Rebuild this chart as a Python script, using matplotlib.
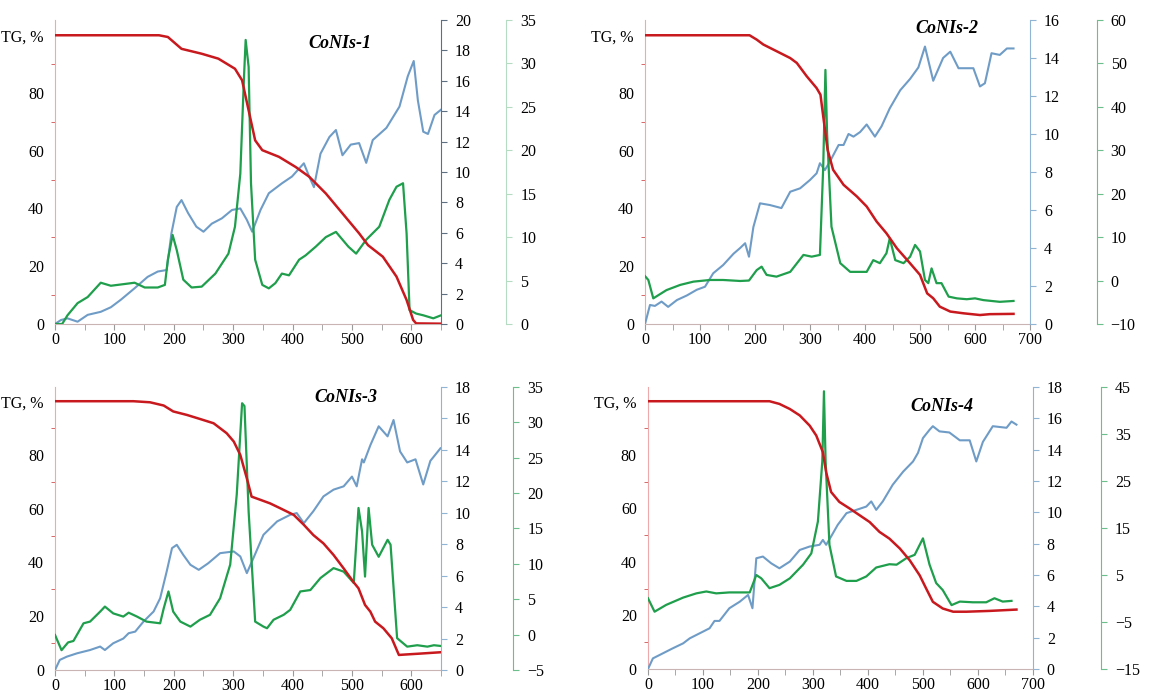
import matplotlib.pyplot as plt

plt.rcParams['font.family'] = ['Liberation Serif', 'DejaVu Serif']
plt.rcParams['font.size'] = 11.5
plt.rcParams['lines.solid_joinstyle'] = 'round'

RED = '#c8191e'
BLUE = '#6f9cc6'
GREEN = '#1f9e4c'

# ---- CoNIs-1 ----
t_tg1 = [0, 175, 190, 213, 247, 275, 303, 315, 326, 337, 349, 377, 405, 428, 456, 484,
         512, 527, 552, 575, 592, 603, 608, 650]
tg1 = [100, 100, 99.4, 95.3, 93.6, 91.9, 88.4, 84.4, 74, 63.6, 60.2, 57.9, 54.4, 51, 45.2,
       38.3, 31.4, 27.3, 23.3, 16.4, 8.3, 1.4, 0.2, 0.1]
t_b1 = [0, 10, 21, 38, 55, 77, 94, 111, 134, 156, 173, 188, 196, 205, 213, 224, 238, 250,
        264, 281, 298, 312, 323, 332, 346, 360, 382, 399, 419, 428, 436, 447, 462, 473,
        484, 498, 512, 524, 535, 558, 580, 594, 604, 611, 620, 628, 639, 650]
b1 = [0, 0.26, 0.37, 0.15, 0.6, 0.8, 1.1, 1.6, 2.35, 3.1, 3.45, 3.55, 5.96, 7.7, 8.15, 7.3,
      6.4, 6.07, 6.6, 6.95, 7.5, 7.6, 6.85, 6.07, 7.5, 8.6, 9.25, 9.7, 10.57, 9.7, 9.0,
      11.2, 12.3, 12.76, 11.1, 11.8, 11.9, 10.6, 12.1, 12.9, 14.3, 16.3, 17.3, 14.7,
      12.65, 12.5, 13.75, 14.1]
t_g1 = [0, 12, 21, 38, 55, 77, 94, 117, 134, 151, 173, 185, 190, 198, 205, 216, 230, 247,
        270, 292, 303, 312, 318, 321, 326, 330, 337, 349, 360, 371, 382, 394, 411, 422,
        439, 456, 473, 494, 507, 524, 546, 563, 575, 586, 592, 597, 608, 620, 637, 650]
g1 = [0, 0, 1.0, 2.4, 3.1, 4.75, 4.4, 4.6, 4.75, 4.2, 4.2, 4.5, 7.4, 10.25, 8.5, 5.1, 4.2,
      4.3, 5.8, 8.1, 11.2, 17.3, 28.1, 32.7, 29.6, 16.2, 7.4, 4.5, 4.1, 4.7, 5.8, 5.6, 7.4,
      7.9, 8.9, 10.0, 10.6, 8.9, 8.1, 9.7, 11.2, 14.3, 15.8, 16.2, 10.4, 1.6, 1.2, 1.0,
      0.65, 1.0]

# ---- CoNIs-2 ----
t_tg2 = [0, 190, 203, 215, 239, 264, 276, 294, 312, 319, 324, 332, 342, 361, 385, 403,
         421, 439, 458, 482, 500, 513, 524, 536, 555, 579, 609, 627, 670]
tg2 = [100, 100, 98.5, 96.8, 94.5, 92.1, 90.4, 85.8, 81.7, 79.4, 71.9, 60.3, 53.4, 48.2,
       44.2, 40.7, 35.5, 31.4, 26.2, 21.0, 17.0, 10.6, 8.9, 6.0, 4.3, 3.7, 3.1, 3.4, 3.5]
t_b2 = [0, 9, 18, 30, 42, 58, 76, 94, 109, 124, 142, 161, 173, 182, 189, 197, 209, 227,
        248, 264, 282, 300, 312, 318, 327, 336, 352, 361, 370, 379, 391, 403, 418, 430,
        445, 464, 482, 497, 509, 524, 542, 555, 570, 597, 609, 618, 630, 645, 658, 670]
b2 = [0, 1.0, 0.95, 1.18, 0.9, 1.26, 1.5, 1.8, 1.96, 2.67, 3.1, 3.7, 4.0, 4.25, 3.54, 5.1,
      6.35, 6.26, 6.1, 6.96, 7.14, 7.58, 7.93, 8.46, 8.1, 8.54, 9.42, 9.42, 10.0, 9.86,
      10.1, 10.5, 9.86, 10.4, 11.35, 12.3, 12.9, 13.5, 14.6, 12.8, 14.0, 14.33, 13.46,
      13.46, 12.5, 12.67, 14.25, 14.16, 14.5, 14.5]
t_g2 = [0, 6, 15, 39, 64, 88, 118, 142, 173, 189, 203, 212, 221, 239, 264, 288, 303, 318,
        324, 328, 331, 339, 355, 373, 403, 415, 427, 439, 445, 455, 470, 482, 491, 500,
        509, 515, 521, 530, 539, 552, 567, 585, 600, 615, 645, 670]
g2 = [1.0, 0.13, -4.1, -2.2, -1.0, -0.25, 0.13, 0.13, -0.1, 0, 2.4, 3.2, 1.3, 0.9, 2.0,
      5.9, 5.5, 5.9, 26.2, 48.5, 33.9, 12.4, 4.0, 2.0, 2.0, 4.7, 4.0, 6.3, 9.7, 4.7, 4.0,
      5.5, 8.2, 6.7, 0.13, -0.6, 2.8, -0.6, -0.6, -3.7, -4.1, -4.3, -4.1, -4.5, -4.9, -4.7]

# ---- CoNIs-3 ----
t_tg3 = [0, 132, 160, 183, 199, 222, 244, 267, 289, 301, 312, 323, 331, 346, 362, 379,
         402, 419, 435, 452, 469, 486, 503, 511, 522, 531, 539, 553, 567, 579, 593, 615, 649]
tg3 = [100, 100, 99.6, 98.4, 96.2, 94.9, 93.4, 91.8, 88.1, 85, 80, 71.3, 64.5, 63.3, 62,
       60.2, 57.7, 54, 50.2, 47.1, 42.8, 37.8, 32.6, 30.4, 24.2, 21.7, 18, 15.5, 11.8, 5.6,
       5.8, 6.1, 6.6]
t_b3 = [0, 8, 20, 37, 59, 76, 84, 98, 115, 124, 135, 149, 166, 177, 188, 197, 205, 216,
        228, 242, 258, 278, 301, 312, 323, 334, 351, 374, 396, 407, 419, 435, 452, 469,
        486, 500, 508, 517, 520, 531, 545, 560, 570, 581, 593, 607, 620, 632, 649]
b3 = [0, 0.64, 0.85, 1.06, 1.27, 1.49, 1.27, 1.7, 2.0, 2.34, 2.44, 3.08, 3.72, 4.56, 6.26,
      7.75, 7.96, 7.32, 6.69, 6.37, 6.79, 7.43, 7.54, 7.22, 6.16, 7.11, 8.6, 9.45, 9.87,
      9.98, 9.34, 10.1, 11.04, 11.47, 11.68, 12.3, 11.68, 13.4, 13.2, 14.3, 15.5, 14.86,
      15.9, 13.9, 13.2, 13.4, 11.8, 13.3, 14.1]
t_g3 = [0, 11, 22, 31, 48, 59, 76, 84, 98, 115, 124, 138, 154, 177, 183, 191, 199, 211,
        228, 244, 261, 278, 295, 306, 315, 319, 326, 337, 351, 357, 368, 385, 396, 413,
        430, 447, 469, 486, 503, 511, 517, 522, 528, 534, 545, 560, 565, 576, 593, 610,
        627, 638, 649]
g3 = [-0.05, -2.2, -1.1, -0.9, 1.6, 1.84, 3.25, 3.96, 3.0, 2.55, 3.1, 2.55, 1.84, 1.6, 3.7,
      6.1, 3.25, 1.84, 1.13, 2.1, 2.8, 5.14, 9.9, 19.8, 32.7, 32.3, 17.4, 1.84, 1.13, 0.9,
      2.1, 2.8, 3.5, 6.1, 6.3, 8.0, 9.4, 8.9, 7.3, 17.9, 14.6, 8.2, 17.9, 12.7, 11.0, 13.4,
      12.7, -0.5, -1.7, -1.5, -1.7, -1.5, -1.6]

# ---- CoNIs-4 ----
t_tg4 = [0, 221, 239, 258, 276, 294, 306, 318, 324, 333, 348, 367, 385, 403, 421, 439,
         458, 476, 494, 506, 518, 536, 555, 579, 621, 670]
tg4 = [100, 100, 99, 97.1, 94.7, 90.9, 87.2, 81, 73.5, 66.1, 62.4, 59.9, 57.4, 54.9, 51.2,
       48.7, 45, 40.6, 35, 30, 25.1, 22.6, 21.4, 21.4, 21.7, 22.2]
t_b4 = [0, 9, 27, 45, 64, 76, 94, 112, 121, 130, 148, 167, 182, 190, 197, 209, 224, 239,
        258, 276, 294, 312, 318, 324, 333, 345, 361, 379, 397, 406, 415, 427, 445, 464,
        482, 491, 500, 512, 518, 530, 548, 567, 585, 597, 609, 627, 652, 661, 670]
b4 = [0, 0.68, 1.0, 1.32, 1.64, 1.96, 2.28, 2.6, 3.07, 3.07, 3.88, 4.3, 4.73, 3.88, 7.07,
      7.18, 6.75, 6.43, 6.86, 7.6, 7.82, 7.93, 8.24, 7.93, 8.46, 9.2, 9.95, 10.16, 10.37,
      10.7, 10.16, 10.7, 11.76, 12.6, 13.25, 13.8, 14.74, 15.27, 15.5, 15.17, 15.1, 14.6,
      14.6, 13.25, 14.5, 15.5, 15.4, 15.8, 15.6]
t_g4 = [0, 12, 33, 64, 88, 106, 124, 148, 185, 197, 206, 221, 239, 258, 282, 297, 309, 317,
        320, 323, 330, 342, 361, 379, 397, 415, 439, 452, 470, 485, 500, 512, 524, 536,
        552, 567, 591, 615, 630, 645, 661]
g4 = [0.06, -2.8, -1.36, 0.2, 1.1, 1.5, 1.1, 1.3, 1.3, 5.0, 4.3, 2.2, 2.9, 4.3, 7.2, 9.6,
      16.4, 29.2, 44.1, 29.2, 11.4, 4.7, 3.75, 3.75, 4.7, 6.6, 7.3, 7.2, 8.6, 9.3, 12.8,
      7.2, 3.3, 1.8, -1.4, -0.65, -0.8, -0.8, 0.06, -0.65, -0.5]

panels = [
    dict(name='CoNIs-1', rect=[0.0469, 0.5325, 0.3291, 0.4387], xmax=650, xtick_max=600,
         tg=(t_tg1, tg1), blue=(t_b1, b1), green=(t_g1, g1),
         blim=(0, 20), bstep=2, glim=(0, 35), gstep=5, gout=47,
         title_xy=(480, 97.3), bspine='#5d6f80', gspine='#b5dcc3'),
    dict(name='CoNIs-2', rect=[0.5499, 0.5325, 0.3282, 0.4387], xmax=700, xtick_max=700,
         tg=(t_tg2, tg2), blue=(t_b2, b2), green=(t_g2, g2),
         blim=(0, 16), bstep=2, glim=(-10, 60), gstep=10, gout=48,
         title_xy=(549, 102.4), bspine='#8fb4d4', gspine='#6cbf8c'),
    dict(name='CoNIs-3', rect=[0.0469, 0.0332, 0.3291, 0.4084], xmax=650, xtick_max=600,
         tg=(t_tg3, tg3), blue=(t_b3, b3), green=(t_g3, g3),
         blim=(0, 18), bstep=2, glim=(-5, 35), gstep=5, gout=52,
         title_xy=(489, 101.2), bspine='#8fb4d4', gspine='#6cbf8c'),
    dict(name='CoNIs-4', rect=[0.5524, 0.0346, 0.3282, 0.4069], xmax=700, xtick_max=700,
         tg=(t_tg4, tg4), blue=(t_b4, b4), green=(t_g4, g4),
         blim=(0, 18), bstep=2, glim=(-15, 45), gstep=10, gout=49,
         title_xy=(534, 98.2), bspine='#8fb4d4', gspine='#6cbf8c'),
]

fig = plt.figure(figsize=(11.73, 6.93), dpi=100)

for p in panels:
    ax = fig.add_axes(p['rect'])
    axb = ax.twinx()
    axg = ax.twinx()

    # green curve, blue curve, then the red TG curve on top
    axg.plot(*p['green'], color=GREEN, lw=1.6)
    axb.plot(*p['blue'], color=BLUE, lw=1.5)
    axr = ax.twinx()
    axr.plot(*p['tg'], color=RED, lw=1.8)
    axr.set_ylim(0, 105.3)
    axr.axis('off')

    # left TG axis
    ax.set_xlim(0, p['xmax'])
    ax.set_ylim(0, 105.3)
    ax.set_yticks([0, 20, 40, 60, 80, 100])
    ax.set_yticklabels(['0', '20', '40', '60', '80', 'TG, %'])
    ax.set_yticks(range(10, 100, 20), minor=True)
    ax.tick_params(axis='y', which='major', length=0, pad=8)
    ax.tick_params(axis='y', which='minor', length=3, color='#d05050', direction='out')
    ax.set_xticks(range(0, p['xtick_max'] + 1, 100))
    ax.set_xticks(range(50, p['xmax'] + 1, 100), minor=True)
    ax.tick_params(axis='x', which='both', length=4, color='#9a9a9a', direction='out', pad=2)
    ax.spines['top'].set_visible(False)
    ax.spines['right'].set_visible(False)
    ax.spines['left'].set_color('#eeaaaa')
    ax.spines['bottom'].set_color('#c9b3b3')
    for s in ['top', 'left', 'bottom']:
        axb.spines[s].set_visible(False)
        axg.spines[s].set_visible(False)

    # blue right axis
    axb.set_ylim(*p['blim'])
    axb.set_yticks(range(p['blim'][0], p['blim'][1] + 1, p['bstep']))
    axb.spines['right'].set_color(p['bspine'])
    axb.tick_params(axis='y', length=4, color=p['bspine'], pad=6)

    # green outer axis
    axg.set_ylim(*p['glim'])
    axg.set_yticks(range(p['glim'][0], p['glim'][1] + 1, p['gstep']))
    axg.spines['right'].set_position(('outward', p['gout']))
    axg.spines['right'].set_color(p['gspine'])
    axg.tick_params(axis='y', length=4, color=p['gspine'], pad=6)

    axr.text(p['title_xy'][0], p['title_xy'][1], p['name'], ha='center', va='center',
             fontsize=13, fontweight='bold', fontstyle='italic')

fig.savefig('out.png', dpi=100)
